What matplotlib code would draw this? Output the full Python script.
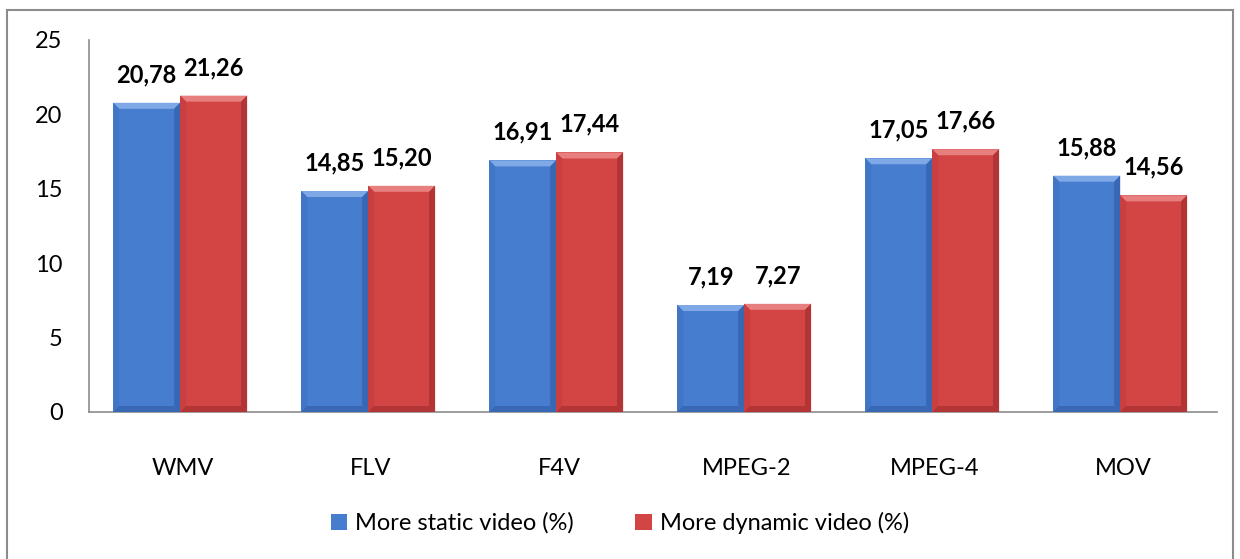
import matplotlib
matplotlib.use("Agg")
import matplotlib.pyplot as plt
from matplotlib.patches import Polygon, Rectangle
import numpy as np

categories = ["WMV", "FLV", "F4V", "MPEG-2", "MPEG-4", "MOV"]
static_vals = [20.78, 14.85, 16.91, 7.19, 17.05, 15.88]
dynamic_vals = [21.26, 15.20, 17.44, 7.27, 17.66, 14.56]
series_names = ["More static video (%)", "More dynamic video (%)"]
y_ticks = [0, 5, 10, 15, 20, 25]

plt.rcParams["font.family"] = ["Lato", "DejaVu Sans"]

fig = plt.figure(figsize=(12.4, 5.59), dpi=100)
ax = fig.add_axes([89 / 1240, 1 - 412 / 559, (1217 - 89) / 1240, (412 - 40) / 559])

# outer chart border
fig.patches.append(Rectangle((7 / 1240, -0.01), (1233 - 7) / 1240, (559 - 10) / 559 + 0.01,
                             transform=fig.transFigure, fill=False,
                             edgecolor="#8c8c8c", linewidth=1.5, zorder=0))

x = np.arange(len(categories))
w = 0.356

palette = {
    "static": dict(main="#477dcf", light="#7fa8e6", side="#4176c6", dark="#3868b4"),
    "dynamic": dict(main="#d34444", light="#e77f7f", side="#c93e3e", dark="#b23434"),
}


def bevel(bars, cols):
    # bevel width, converted from pixels into data units
    bx = 6 / 188
    by = 6 / 14.88
    for b in bars:
        x0, y0 = b.get_x(), b.get_y()
        x1, y1 = x0 + b.get_width(), y0 + b.get_height()
        # soft shadow under the bar
        ax.add_patch(Rectangle((x0 + bx * 0.4, y0 - 0.15), b.get_width(), 0.15,
                               facecolor="#c8c8c8", edgecolor="none", zorder=2))
        top = [(x0, y1), (x1, y1), (x1 - bx, y1 - by), (x0 + bx, y1 - by)]
        left = [(x0, y1), (x0 + bx, y1 - by), (x0 + bx, y0 + by), (x0, y0)]
        right = [(x1, y1), (x1, y0), (x1 - bx, y0 + by), (x1 - bx, y1 - by)]
        bottom = [(x0, y0), (x0 + bx, y0 + by), (x1 - bx, y0 + by), (x1, y0)]
        for pts, c in ((top, cols["light"]), (left, cols["side"]),
                       (right, cols["dark"]), (bottom, cols["dark"])):
            ax.add_patch(Polygon(pts, closed=True, facecolor=c, edgecolor="none",
                                 zorder=3.5))


b1 = ax.bar(x - w / 2 - 0.015, static_vals, w, color=palette["static"]["main"],
            edgecolor="none", zorder=3, label=series_names[0])
b2 = ax.bar(x + w / 2 - 0.015, dynamic_vals, w, color=palette["dynamic"]["main"],
            edgecolor="none", zorder=3, label=series_names[1])
bevel(b1, palette["static"])
bevel(b2, palette["dynamic"])

for bars, vals in ((b1, static_vals), (b2, dynamic_vals)):
    for b, v in zip(bars, vals):
        ax.annotate(f"{v:.2f}".replace(".", ","),
                    (b.get_x() + b.get_width() / 2, v),
                    xytext=(0, 12), textcoords="offset points",
                    ha="center", va="bottom", fontsize=17, fontweight="bold",
                    color="black")

ax.set_xlim(-0.5, len(categories) - 0.5)
ax.set_ylim(0, 25)
ax.set_yticks(y_ticks)
ax.set_yticklabels([str(t) for t in y_ticks], fontsize=17)
ax.set_xticks(x)
ax.set_xticklabels(categories, fontsize=17)
ax.tick_params(axis="y", length=0, pad=19)
ax.tick_params(axis="x", length=0, pad=33)

for s in ("top", "right"):
    ax.spines[s].set_visible(False)
for s in ("left", "bottom"):
    ax.spines[s].set_color("#8c8c8c")
    ax.spines[s].set_linewidth(1.2)

leg = fig.legend(handles=[b1, b2], labels=series_names, loc="center",
                 bbox_to_anchor=(0.5, 1 - 523 / 559), ncol=2, frameon=False,
                 fontsize=17, handlelength=0.7, handleheight=0.7,
                 handletextpad=0.35, columnspacing=2.6)

fig.savefig("out.png", dpi=100)
